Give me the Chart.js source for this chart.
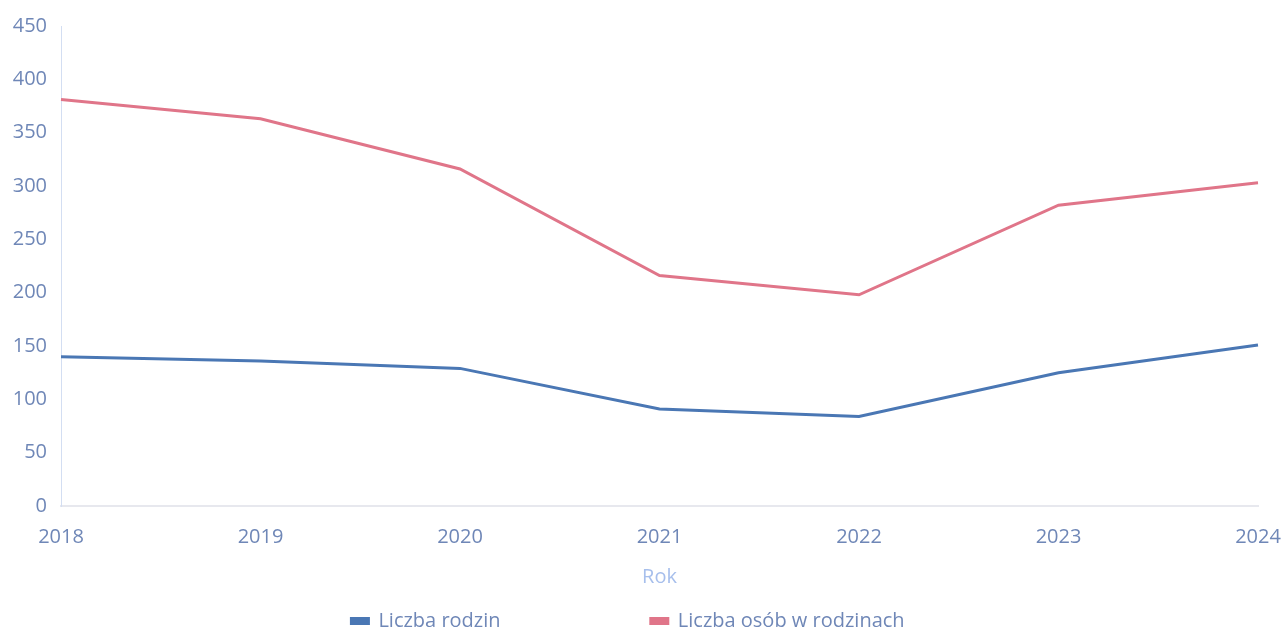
<!DOCTYPE html>
<html>
<head>
<meta charset="utf-8">
<script src="https://cdn.jsdelivr.net/npm/chart.js@4"></script>
<style>
  html, body { margin: 0; padding: 0; background: #fff; }
  #wrap { width: 1282px; height: 633px; }
</style>
</head>
<body>
<div id="wrap"><canvas id="chart"></canvas></div>
<script>
const years = ["2018", "2019", "2020", "2021", "2022", "2023", "2024"];
const familyCount = [140, 136, 129, 91, 84, 125, 151];
const peopleInFamilies = [381, 363, 316, 216, 198, 282, 303];
const yTicks = [0, 50, 100, 150, 200, 250, 300, 350, 400, 450];

const tickColor = "#6f87b7";
const fontFamily = "Open Sans";
const fontSize = 20;

// wide gap between legend entries without blowing up legend padding
const legendTail = [" ".repeat(27), " ".repeat(5)];

new Chart(document.getElementById("chart"), {
    type: "line",
    data: {
        labels: years,
        datasets: [
            {
                label: "Liczba rodzin",
                data: familyCount,
                borderColor: "#4a77b4",
                backgroundColor: "#4a77b4",
                borderWidth: 3,
                pointRadius: 0,
                tension: 0
            },
            {
                label: "Liczba osób w rodzinach",
                data: peopleInFamilies,
                borderColor: "#e07589",
                backgroundColor: "#e07589",
                borderWidth: 3,
                pointRadius: 0,
                tension: 0
            }
        ]
    },
    options: {
        responsive: true,
        maintainAspectRatio: false,
        animation: false,
        layout: { padding: { top: 24, right: 0, left: 0, bottom: -8 } },
        plugins: {
            legend: {
                position: "bottom",
                labels: {
                    color: tickColor,
                    font: { family: fontFamily, size: fontSize },
                    boxWidth: 17,
                    boxHeight: 5,
                    padding: 10,
                    generateLabels: function (chart) {
                        const items = Chart.defaults.plugins.legend.labels.generateLabels(chart);
                        items.forEach((item, i) => { item.text = item.text + (legendTail[i] || ""); });
                        return items;
                    }
                }
            },
            tooltip: { enabled: false }
        },
        scales: {
            x: {
                offset: false,
                grid: { display: false, drawTicks: false },
                border: { color: "#e7e8ee", width: 2 },
                ticks: {
                    color: tickColor,
                    font: { family: fontFamily, size: fontSize },
                    padding: 19,
                    maxRotation: 0
                },
                title: {
                    display: true,
                    text: "Rok",
                    color: "#a7bfec",
                    font: { family: fontFamily, size: fontSize },
                    padding: { top: 0, bottom: 12 }
                },
                afterFit: function (scale) {
                    scale.height = 95;
                    scale.paddingRight = 24;
                }
            },
            y: {
                min: 0,
                max: 450,
                afterBuildTicks: function (scale) {
                    scale.ticks = yTicks.map(v => ({ value: v }));
                },
                grid: { display: false, drawTicks: false },
                border: { color: "#d3def2", width: 1, dash: [2, 3] },
                ticks: {
                    color: tickColor,
                    font: { family: fontFamily, size: fontSize },
                    padding: 14
                },
                afterFit: function (scale) { scale.width = 61; }
            }
        }
    }
});
</script>
</body>
</html>
